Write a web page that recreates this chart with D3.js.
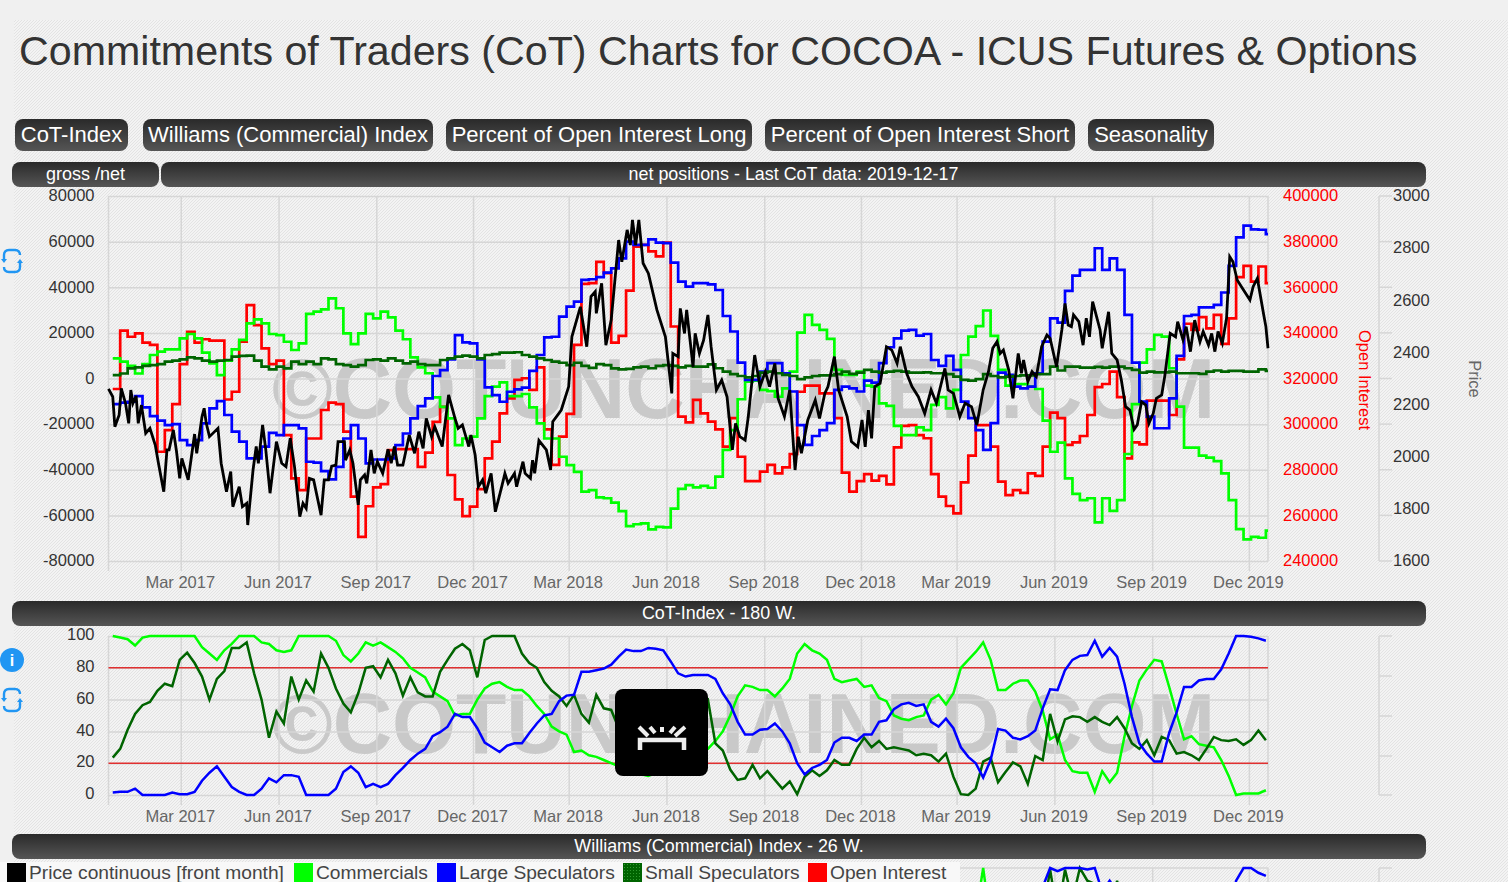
<!DOCTYPE html>
<html>
<head>
<meta charset="utf-8">
<title>CoT Charts COCOA</title>
<script src="https://cdnjs.cloudflare.com/ajax/libs/d3/7.8.5/d3.min.js"></script>
<style>
html, body { margin: 0; padding: 0; background: #f0f0f0; overflow: hidden; }
svg { display: block; font-family: "Liberation Sans", Arial, sans-serif; }
.grid line { stroke: #d6d6d6; stroke-width: 1.5; }
.grid path { display: none; }
.lbl path, .lbl line { display: none; }
.lbl text { font-size: 16.5px; fill: #333; }
.xlbl text { fill: #666; }
</style>
</head>
<body>
<svg id="page" width="1508" height="882"></svg>
<script>
// weekly CoT report, first date
var firstWeek = new Date(2016, 11, 27);
var axisStart = new Date(2016, 11, 23);
var axisEnd = new Date(2019, 11, 19);

var monthTicks = ["2017-03-01","2017-06-01","2017-09-01","2017-12-01","2018-03-01","2018-06-01","2018-09-01","2018-12-01","2019-03-01","2019-06-01","2019-09-01","2019-12-01"];
var netTicks = [-80000,-60000,-40000,-20000,0,20000,40000,60000,80000];
var oiTicks = [240000,260000,280000,300000,320000,340000,360000,380000,400000];
var priceTicks = [1600,1800,2000,2200,2400,2600,2800,3000];
var indexTicks = [0,20,40,60,80,100];

// net positions, thousands of contracts
var commercialsNet = [8.8,7.4,5.5,2.2,6.3,10.3,11.8,12.8,12.8,17.6,
  19.5,17.6,11.3,6.6,1.5,7.8,12.8,16.9,24.2,25.9,
  24.2,19.5,19,16.1,12.5,15.4,28.3,29.3,30.3,35.1,
  30.8,19.8,15.1,19.8,28.3,26.4,29.3,26.8,21,17.2,
  9.3,4.9,2.3,-8.3,-12.4,-17.5,-29.2,-26.3,-25.5,-17.5,
  -7.7,-3.6,-1.7,-7.7,-7.7,-6.8,-12.7,-19.7,-26.3,-26.3,
  -34.3,-38,-40.9,-49.6,-48.9,-52.1,-52.5,-54.4,-58.1,-64.7,
  -63.9,-63.5,-66.1,-65,-65.3,-57,-48.4,-46.7,-47.7,-47.1,
  -47.9,-43,-31.3,-22.6,-9.1,-1.4,-0.9,-5,-5.5,-8,
  -4.3,3,20.1,27.9,23.5,21.3,17.4,3.8,1.6,1.6,
  3,-3.1,-3.6,-10.9,-12,-20.8,-24.8,-24.8,-21.4,-22.6,
  -11.6,-8.2,-13.1,-5,10.3,18.4,23,29.8,18.7,3.8,
  -3.1,-2.5,-2.5,-3.6,-4.6,-18.5,-32.1,-28.1,-43.8,-50.6,
  -53.3,-52.5,-63.1,-52.5,-58,-53.3,-33.1,-11.2,7,12.8,
  19.1,18.4,4.5,-12.3,-30.3,-30.3,-33.8,-34.7,-36.2,-41.6,
  -53.3,-66,-70.5,-69.4,-69.8,-66.7];
var largeSpecNet = [-11.2,-10.6,-10.2,-7.7,-12.7,-16.5,-18.5,-20.4,-20,-27,
  -29.2,-27,-19.7,-13.1,-9.9,-16,-23.3,-27.7,-35,-35,
  -29.9,-23.8,-24.8,-20.4,-20.4,-21.9,-36.5,-36.9,-40.6,-44.2,
  -38.7,-26.3,-20.4,-26.3,-37.2,-35.5,-35.5,-35,-29.2,-24.1,
  -17.5,-12.1,-8.7,1.1,3.7,8.4,19,15.8,15.4,8.4,
  -3.9,-7.3,-10.2,-5.8,-4.8,-4,3.3,10.3,18,18.3,
  27.1,31.5,33.7,43.2,43.5,44.4,46.4,48.3,52.7,60,
  58.6,58.6,61,59.6,59.3,50.8,42.5,40.3,41.8,41.8,
  41.3,38.8,27.4,20.6,7,-0.6,-0.6,3,6.7,6.7,
  2.3,-5.7,-20.4,-29.1,-25.2,-22.6,-19.6,-5,-3.6,-4.3,
  -5.7,-0.9,-1.8,6.7,13.7,17.6,21,21.3,18.8,19.5,
  8.1,5.5,9.9,3.8,-10.1,-17.4,-22.6,-31.3,-19.6,2.6,
  1.6,-3.6,-4.3,-3.6,2.3,16.2,26.4,24.5,38.4,45.1,
  47.6,47.6,57.1,47.6,52.7,47.6,27.9,7,-10.1,-16.7,
  -21.8,-21.8,-8.7,9.9,27.4,27.9,31.2,31.2,32.3,37.7,
  49.4,61.9,67,65.4,65.2,63.3];
var smallSpecNet = [1.5,2.2,4.4,4.9,5.5,5.9,6.3,7.4,7.8,8.4,
  9.3,8.8,7.8,7.4,7.8,8.1,9.6,9.9,10,7.8,
  5.2,4,5.2,4.4,7.4,6.3,7.4,6.3,8.8,8.4,
  6.3,5.9,5.2,5.9,8.1,8.4,7.8,8.8,7.8,6.6,
  7.4,6.3,5.9,5.9,8.1,8.8,9.6,10,9.6,8.8,
  10.3,10.7,11.3,11.3,11.5,10.3,9.6,8.8,8.1,7.4,
  6.9,5.9,6.9,5.5,4.7,6.3,5.9,4.4,4,4.2,
  4.9,5.2,4.5,5.5,5.9,5.5,4.9,5.5,5.2,5.2,
  6.2,4.5,3,1.9,1.1,0.5,1.1,2.6,3,2.3,
  1.6,1.1,-0.3,0.5,1.1,1.4,1.4,1.9,3,2,
  2.6,3.8,3,2.6,3,3.3,3,2.6,2.6,2.7,
  2.3,2.3,1.9,0.8,-0.6,-0.9,-0.3,1.9,1.1,0.5,
  0.8,1.1,1.4,1.4,1.9,1.9,5.2,3.5,5.2,5.2,
  4.8,4.8,5.1,4.8,5.2,5.2,4.5,3.8,2.6,3,
  2.7,2.7,3,2.3,2.3,2.3,2,3,3.5,3,
  3.3,3.3,3,3,4,3.3];
// open interest, thousands of contracts
var openInterest = [315.4,341,338.3,339.8,335.7,334.7,287.9,297.4,308.8,326.3,
  340.5,335.7,337.2,336.6,336.6,310.8,314.2,336.1,352.2,343.4,
  333.2,326.3,327.8,295.2,276.2,271.1,293.7,293.7,306.2,309.4,
  308.8,296.7,268.2,250.6,264,272.3,273.7,288.6,289,289,
  289,281.3,287.5,301,307.6,277.7,267,259.7,263.8,271.5,
  285,292.3,304.7,311.3,319.4,320.1,315,324.9,297.7,282.1,
  294.5,304.5,334.7,361.5,361.8,371.1,366.2,335.7,338.7,358.5,
  377.8,378.6,375.7,373.5,379.6,342.8,303.3,300.8,310.6,304.7,
  301.1,297.7,290.1,302.6,285.7,275,275,279.2,282.1,278.4,
  281,286.9,314.2,316.9,316.9,313.5,313.5,302.6,278.7,270.4,
  275,278.1,275.2,277.3,273.6,289.8,299.2,299.6,295.2,293.8,
  278.1,268.2,264.1,260.9,274.5,286.2,299.6,299.6,290.1,274.8,
  268.9,271.1,269.9,278.4,277.3,290.1,305,302.6,290.9,292,
  294.8,304,316.2,317.6,323,311.8,285,292,291.1,310.3,
  310.3,310.3,304,328.4,344,341.3,346.9,342,347.9,335.2,
  346.4,364.4,369.4,362.5,369.1,361.8];

// front month price, turning points (days after axisStart)
var priceDays = [0,4,6,10,12,16,19,21,23,26,28,31,35,39,44,47,52,55,57,61,64,67,69,75,81,83,88,90,92,95,103,106,111,115,117,123,126,130,131,136,139,141,145,148,152,158,163,167,171,175,180,183,186,189,193,200,203,207,210,214,216,222,223,227,230,235,237,241,
  243,247,250,253,258,263,266,269,272,277,283,288,292,296,299,304,307,314,320,326,329,333,339,341,345,348,352,355,360,364,370,373,376,382,384,390,392,397,399,401,405,412,416,
  418,426,433,436,444,450,454,458,459,464,468,473,480,483,488,491,493,496,499,503,508,516,524,530,531,536,538,542,544,550,552,556,560,564,567,572,577,582,587,590,594,599,602,608,613,618,622,627,630,636,641,646,649,652,658,665,669,674,677,683,687,695,699,705,709,712,715,718,721,726,732,737,742,745,751,756,762,768,774,779,787,790,795,801,806,812,817,823,828,832,836,839,
  842,847,851,856,859,861,865,869,873,878,883,886,892,897,900,903,906,908,913,917,920,923,926,933,935,941,944,949,953,957,961,965,968,972,976,979,983,986,991,994,999,1004,1006,1011,1014,1018,1022,1027,1030,1035,1038,1041,1044,1048,1052,1055,1058,1062,1066,1074,1077,1081,1084,1087,1089,1091];
var priceValues = [2260,2230,2115,2160,2262,2205,2128,2256,2205,2233,2128,2198,2090,2109,2045,1975,1866,2026,2026,2103,2020,1917,1994,1911,2087,2013,2154,2186,2128,2077,2109,1975,1866,1943,1808,1885,1808,1821,1738,1949,2039,1975,2122,2026,1860,2058,1975,1962,2071,1962,1770,1821,1802,1917,1911,1776,1911,1911,1964,1968,2058,2058,1987,2026,1975,1815,1911,1930,
  1898,2026,1936,1981,1936,2028,1975,2039,1968,1968,2083,2013,2096,2032,2147,2077,2115,2039,2237,2147,2109,2122,2039,2083,2007,1885,1911,1860,1936,1789,1885,1936,1898,1936,1885,1981,1936,1917,1987,1936,2062,2026,1949,
  2134,2179,2269,2460,2575,2422,2614,2633,2550,2665,2428,2524,2831,2748,2870,2812,2908,2812,2908,2742,2703,2563,2460,2243,2396,2384,2569,2473,2563,2345,2473,2396,2448,2544,2422,2256,2294,2230,2026,2128,2077,2064,2154,2390,2269,2326,2269,2358,2224,2154,2256,1949,2077,2013,2141,2217,2147,2243,2269,2384,2256,2154,2058,2038,2141,2038,2179,2070,2269,2281,2422,2409,2358,2422,2320,2269,2230,2166,2256,2205,2339,2256,2243,2154,2205,2192,2122,2256,2326,2416,2441,2396,
  2409,2333,2224,2396,2320,2371,2288,2326,2307,2422,2467,2454,2345,2486,2588,2505,2499,2544,2518,2428,2531,2460,2595,2486,2416,2556,2396,2371,2294,2192,2179,2105,2122,2211,2198,2128,2166,2224,2237,2313,2473,2460,2518,2448,2499,2403,2524,2441,2480,2428,2473,2403,2480,2435,2531,2767,2748,2678,2652,2601,2652,2684,2614,2544,2499,2416];

// CoT-Index, 180 weeks
var cotCommercials = [100,99,98,94,99,100,100,100,100,100,
  100,100,93,89,85,91,95,100,100,100,
  96,95,91,90,91,100,100,100,100,100,
  97,88,84,89,96,94,96,93,90,86,
  80,77,74,65,62,59,50,51,51,60,
  67,70,71,68,66,66,62,56,51,43,
  40,38,27,28,25,24,22,20,18,15,
  14,13,12,14,13,15,18,22,25,28,
  29,34,40,50,62,69,68,66,66,62,
  67,73,89,95,91,89,85,73,71,72,
  73,68,69,61,59,50,48,47,49,50,
  60,63,57,64,80,85,90,96,85,66,
  66,70,72,72,65,53,35,38,22,15,
  14,14,2,15,8,14,37,56,72,79,
  85,84,68,51,35,37,32,31,30,22,
  12,0,1,1,1,3];
var cotLargeSpec = [1.5,2,2,4,0,0,0,0,1.5,0.5,
  0.5,2,9,14,18,11.5,5,2,0,0,
  4,10.5,8,12.5,12.5,11.5,0,0,0,0,
  4,14.5,18,14,5,7,5,7,12.5,17,
  22,26,29,37,39.5,43,51,49,49,42,
  33,30,27,31,32.5,32.5,39,45,50,51,
  59,62.5,63,77.5,77.5,78.5,79.5,82,87,91.5,
  90.5,90.5,92.5,92,91,84,76.5,74.5,75.5,75.5,
  75.5,73,64,57,46,38,38,41,41.5,45,
  40,32.5,20,13,17,19,22,33,36,36,
  34,38,38,46,47,54,57,58,56,57,
  46,43,48,42,30,24,20,11,22,41.5,
  40.5,36,35,37,40.5,54.5,66.5,66,78.5,85,
  87.5,88,97,87,92.5,87,70,49,32.5,26,
  21,21,39,52,68,68,72,73,73,79,
  89,100,100,99.5,98.5,97];
var cotSmallSpec = [23.5,29,41,51,56.5,58.5,65.5,70,68.5,85,
  89.5,83,74.5,60,73,78,92.5,92.5,96,76.5,
  60,36,52.5,45,74.5,60,72,65,89,80,
  67,57.5,52,64,80,81,74,85,76.5,62.5,
  74,64.5,62,62,77.5,85,92,95,91,74,
  97.5,100,100,100,100,89,83,80,71,65.5,
  62,56,63,51,45.5,63,54.5,53.5,42,45,
  38,50,58,52,60,48,44,52,56,58,
  60,32.5,28,16,9.5,10.5,19,10.5,15,9.5,
  4,8.5,0.5,11.5,15.5,12,15.5,22,19,19,
  29,36,30,34,29,30,29,28,25,26,
  25,21,26,11.5,0.5,0,4,21,23.5,8,
  14.5,20.5,18,7,24.5,22,51,33.5,47.5,49.5,
  49,46,49,46,44,49,42,32.5,29,34.5,
  25,36.5,34.5,26,27,25,22,29,36.5,34.5,
  34,35,31.5,34.5,40.5,34.5];

// Williams index, only the top of this panel is on the page
var wrCommWeeks = [115,116,117,118,119];
var wrCommValues = [50,70,100,65,40];
var wrLargeWeeks = [123,124,125,126,127,128,129,130,131,132,133,134,135,136,149,150,151,152,153,154,155];
var wrLargeValues = [50,70,88,100,98,100,100,100,99,100,85,92,85,70,50,70,92,100,100,97,95];
var wrSmallWeeks = [124,125,126,127,128,129,130,131,132,133,134,135,136];
var wrSmallValues = [50,70,99,70,99,80,100,92,90,85,70,92,70];

var legendNames = ["Price continuous [front month]","Commercials","Large Speculators","Small Speculators","Open Interest"];
var legendColors = ["#000","#00ff00","#0000ff","#006400","#ff0000"];
var buttonNames = ["CoT-Index","Williams (Commercial) Index","Percent of Open Interest Long","Percent of Open Interest Short","Seasonality"];

var weeks = commercialsNet.map(function(d, i) { return d3.timeDay.offset(firstWeek, i * 7); });
var priceDates = priceDays.map(function(d) { return d3.timeDay.offset(axisStart, d); });

var svg = d3.select("#page");
var defs = svg.append("defs");

// fine diagonal dither of the page background
var hatch = defs.append("pattern").attr("id", "hatch").attr("width", 3).attr("height", 3)
  .attr("patternUnits", "userSpaceOnUse");
hatch.append("rect").attr("width", 3).attr("height", 3).attr("fill", "#f3f3f3");
hatch.append("path").attr("d", "M0,3L3,0M-1,1L1,-1M2,4L4,2").attr("stroke", "#e3e3e3").attr("stroke-width", 1);

var barGrad = defs.append("linearGradient").attr("id", "barGrad").attr("x1", 0).attr("y1", 0).attr("x2", 0).attr("y2", 1);
barGrad.append("stop").attr("offset", "0%").attr("stop-color", "#2a2a2a");
barGrad.append("stop").attr("offset", "100%").attr("stop-color", "#555");

var dots = defs.append("pattern").attr("id", "dots").attr("width", 3).attr("height", 3).attr("patternUnits", "userSpaceOnUse");
dots.append("rect").attr("width", 3).attr("height", 3).attr("fill", "#006400");
dots.append("rect").attr("width", 1).attr("height", 1).attr("fill", "#2f9a2f");

svg.append("rect").attr("width", 1508).attr("height", 882).attr("fill", "url(#hatch)");
svg.append("rect").attr("width", 1508).attr("height", 20).attr("fill", "#f0f0f0");
svg.append("rect").attr("width", 14).attr("height", 882).attr("fill", "#f0f0f0");

svg.append("text").attr("x", 19).attr("y", 65).attr("fill", "#333").attr("font-size", 41.2)
  .text("Commitments of Traders (CoT) Charts for COCOA - ICUS Futures & Options");

function bar(x0, x1, y0, y1, label, size) {
  svg.append("rect").attr("x", x0).attr("y", y0).attr("width", x1 - x0).attr("height", y1 - y0)
    .attr("rx", 8).attr("fill", "url(#barGrad)");
  svg.append("text").attr("x", (x0 + x1) / 2).attr("y", (y0 + y1) / 2 + size * 0.35 - 1)
    .attr("text-anchor", "middle").attr("fill", "#fff").attr("font-size", size).text(label);
}

var buttonEdges = [[15,128],[143,433],[446,752],[765,1075],[1088,1214]];
buttonNames.forEach(function(n, i) { bar(buttonEdges[i][0], buttonEdges[i][1], 119, 151, n, 22); });
bar(12, 159, 162, 187, "gross /net", 18);
bar(161, 1426, 162, 187, "net positions - Last CoT data: 2019-12-17", 17.9);
bar(12, 1426, 601, 626, "CoT-Index - 180 W.", 17.9);
bar(12, 1426, 834, 859, "Williams (Commercial) Index - 26 W.", 17.9);

var x = d3.scaleTime().domain([axisStart, axisEnd]).range([108.5, 1268]);
var tickDates = monthTicks.map(function(d) { return d3.isoParse(d); });
var xFormat = d3.timeFormat("%b %Y");

function watermark(baseline) {
  svg.append("text").attr("x", 272).attr("y", baseline).attr("font-size", 86).attr("font-weight", "bold")
    .attr("fill", "#c9c9c9").attr("textLength", 943).attr("lengthAdjust", "spacingAndGlyphs")
    .text("©COTUNCHAINED.COM");
}

function verticals(top, bottom) {
  svg.append("g").attr("class", "grid").attr("transform", "translate(0," + bottom + ")")
    .call(d3.axisBottom(x).tickValues(tickDates).tickSize(-(bottom - top)).tickSizeOuter(0).tickFormat(""));
  svg.append("line").attr("x1", 108.5).attr("x2", 108.5).attr("y1", top).attr("y2", bottom + 10).attr("stroke", "#d6d6d6").attr("stroke-width", 1.5);
  svg.append("line").attr("x1", 1268).attr("x2", 1268).attr("y1", top).attr("y2", bottom).attr("stroke", "#d6d6d6").attr("stroke-width", 1.5);
  svg.append("g").attr("class", "grid").attr("transform", "translate(0," + bottom + ")")
    .call(d3.axisBottom(x).tickValues(tickDates).tickSize(10).tickSizeOuter(0).tickFormat(""));
}

function monthLabels(bottom, pad) {
  svg.append("g").attr("class", "lbl xlbl").attr("transform", "translate(-1," + bottom + ")")
    .call(d3.axisBottom(x).tickValues(tickDates).tickSize(0).tickPadding(pad).tickFormat(xFormat));
}

function sideAxis(axisTicks) {
  // grey scale strip right of the plot
  svg.append("line").attr("x1", 1379).attr("x2", 1379).attr("y1", axisTicks[0]).attr("y2", axisTicks[axisTicks.length - 1])
    .attr("stroke", "#d6d6d6").attr("stroke-width", 1.5);
  svg.selectAll(null).data(axisTicks).enter().append("line")
    .attr("x1", 1379).attr("x2", 1392).attr("y1", function(d) { return d; }).attr("y2", function(d) { return d; })
    .attr("stroke", "#d6d6d6").attr("stroke-width", 1.5);
}

// ---- net positions panel
var yNet = d3.scaleLinear().domain([-80000, 80000]).range([561, 196]);
var yOi = d3.scaleLinear().domain([240000, 400000]).range([561, 196]);
var yPrice = d3.scaleLinear().domain([1600, 3000]).range([561, 196]);
var plainNumber = function(d) { return String(d); };

watermark(418);
verticals(196, 561);
svg.append("g").attr("class", "grid").attr("transform", "translate(108.5,0)")
  .call(d3.axisLeft(yNet).tickValues(netTicks).tickSize(-1159.5).tickSizeOuter(0).tickFormat(""));
svg.append("g").attr("class", "lbl").attr("transform", "translate(108.5,-0.5)")
  .call(d3.axisLeft(yNet).tickValues(netTicks).tickSize(0).tickPadding(14).tickFormat(plainNumber));
var oiAxis = svg.append("g").attr("class", "lbl").attr("transform", "translate(1268,-0.5)")
  .call(d3.axisRight(yOi).tickValues(oiTicks).tickSize(0).tickPadding(15).tickFormat(plainNumber));
oiAxis.selectAll("text").style("fill", "#ff0000");
svg.append("g").attr("class", "lbl").attr("transform", "translate(1392,-0.5)")
  .call(d3.axisRight(yPrice).tickValues(priceTicks).tickSize(0).tickPadding(1).tickFormat(plainNumber));
sideAxis(netTicks.map(function(d) { return yNet(d); }));
monthLabels(561, 15);

svg.append("text").attr("transform", "translate(1359,380) rotate(90)").attr("text-anchor", "middle")
  .attr("fill", "#ff0000").attr("font-size", 16.5).text("Open Interest");
svg.append("text").attr("transform", "translate(1469,379) rotate(90)").attr("text-anchor", "middle")
  .attr("fill", "#666").attr("font-size", 16.5).text("Price");

function stepLine(values, yScale, unit, color, width) {
  // last value runs on to the right edge of the plot
  var pts = values.map(function(v, i) { return [weeks[i], v * unit]; });
  pts.push([axisEnd, values[values.length - 1] * unit]);
  var line = d3.line().x(function(d) { return x(d[0]); }).y(function(d) { return yScale(d[1]); }).curve(d3.curveStepAfter);
  svg.append("path").attr("d", line(pts)).attr("fill", "none").attr("stroke", color).attr("stroke-width", width);
}

stepLine(openInterest, yOi, 1000, "#ff0000", 2.7);
stepLine(commercialsNet, yNet, 1000, "#00ff00", 2.7);
stepLine(largeSpecNet, yNet, 1000, "#0000ff", 2.7);
stepLine(smallSpecNet, yNet, 1000, "#006400", 2.7);

var priceLine = d3.line().x(function(d, i) { return x(priceDates[i]); }).y(function(d) { return yPrice(d); });
svg.append("path").attr("d", priceLine(priceValues)).attr("fill", "none").attr("stroke", "#000").attr("stroke-width", 2.8);

// ---- CoT index panel
var yIdx = d3.scaleLinear().domain([0, 100]).range([795, 636]);
watermark(753);
verticals(636, 795);
svg.append("g").attr("class", "grid").attr("transform", "translate(108.5,0)")
  .call(d3.axisLeft(yIdx).tickValues(indexTicks).tickSize(-1159.5).tickSizeOuter(0).tickFormat(""));
svg.append("g").attr("class", "lbl").attr("transform", "translate(108.5,-1.5)")
  .call(d3.axisLeft(yIdx).tickValues(indexTicks).tickSize(0).tickPadding(14));
[80, 20].forEach(function(lim) {
  svg.append("line").attr("x1", 108.5).attr("x2", 1268).attr("y1", yIdx(lim)).attr("y2", yIdx(lim))
    .attr("stroke", "#e03030").attr("stroke-width", 1.5);
});
sideAxis([636, 676, 716, 756, 795]);
monthLabels(795, 15);

var idxLine = d3.line().x(function(d, i) { return x(weeks[i]); }).y(function(d) { return yIdx(d); });
svg.append("path").attr("d", idxLine(cotCommercials)).attr("fill", "none").attr("stroke", "#00ff00").attr("stroke-width", 2.5);
svg.append("path").attr("d", idxLine(cotSmallSpec)).attr("fill", "none").attr("stroke", "#006400").attr("stroke-width", 2.5);
svg.append("path").attr("d", idxLine(cotLargeSpec)).attr("fill", "none").attr("stroke", "#0000ff").attr("stroke-width", 2.5);

// black badge sitting on top of the index panel
svg.append("rect").attr("x", 615).attr("y", 689).attr("width", 93).attr("height", 87).attr("rx", 8).attr("fill", "#000");
svg.append("path").attr("d", "M640,750V740H684V750").attr("fill", "none").attr("stroke", "#eee").attr("stroke-width", 4.5);
[[639,727,648,736],[650,727,655,733],[662,727,662,732],[675,727,670,733],[685,727,675,736]].forEach(function(r) {
  svg.append("line").attr("x1", r[0]).attr("y1", r[1]).attr("x2", r[2]).attr("y2", r[3]).attr("stroke", "#eee").attr("stroke-width", 4);
});

// ---- Williams panel, cut by the page
var yWr = d3.scaleLinear().domain([0, 100]).range([1027, 868]);
svg.append("line").attr("x1", 108.5).attr("x2", 1268).attr("y1", yWr(100)).attr("y2", yWr(100)).attr("stroke", "#d6d6d6").attr("stroke-width", 1.5);
svg.append("g").attr("class", "grid").attr("transform", "translate(0,1027)")
  .call(d3.axisBottom(x).tickValues(tickDates).tickSize(-159).tickSizeOuter(0).tickFormat(""));
svg.append("line").attr("x1", 1268).attr("x2", 1268).attr("y1", 868).attr("y2", 882).attr("stroke", "#d6d6d6").attr("stroke-width", 1.5);
sideAxis([868, 1027]);

function wrPath(wk, vals, color) {
  var line = d3.line().x(function(d) { return x(weeks[d]); }).y(function(d, i) { return yWr(vals[i]); });
  svg.append("path").attr("d", line(wk)).attr("fill", "none").attr("stroke", color).attr("stroke-width", 2.5);
}
wrPath(wrCommWeeks, wrCommValues, "#00ff00");
wrPath(wrSmallWeeks, wrSmallValues, "#006400");
wrPath(wrLargeWeeks, wrLargeValues, "#0000ff");

// ---- legend strip
svg.append("rect").attr("x", 0).attr("y", 862).attr("width", 960).attr("height", 20).attr("fill", "#f8f8f8");
var legendX = [7, 294, 437, 623, 808];
legendNames.forEach(function(n, i) {
  svg.append("rect").attr("x", legendX[i]).attr("y", 863).attr("width", 19).attr("height", 19)
    .attr("fill", i == 3 ? "url(#dots)" : legendColors[i]);
  svg.append("text").attr("x", legendX[i] + 22).attr("y", 879).attr("fill", "#444").attr("font-size", 19.2).text(n);
});

// ---- side icons
function refreshIcon(cx, cy) {
  var g = svg.append("g").attr("transform", "translate(" + cx + "," + cy + ")")
    .attr("fill", "none").attr("stroke", "#2196f3").attr("stroke-width", 2.4);
  g.append("path").attr("d", "M-8,-2V-6Q-8,-11 -3,-11H3Q8,-11 8,-6");
  g.append("path").attr("d", "M8,2V6Q8,11 3,11H-3Q-8,11 -8,6");
  g.append("path").attr("d", "M-11,-2H-5L-8,2Z").attr("fill", "#2196f3").attr("stroke", "none");
  g.append("path").attr("d", "M11,2H5L8,-2Z").attr("fill", "#2196f3").attr("stroke", "none");
}
refreshIcon(12, 261);
refreshIcon(12, 700);
svg.append("circle").attr("cx", 12).attr("cy", 660).attr("r", 12).attr("fill", "#2196f3");
svg.append("text").attr("x", 12).attr("y", 666).attr("text-anchor", "middle").attr("fill", "#fff")
  .attr("font-size", 16).attr("font-weight", "bold").text("i");
</script>
</body>
</html>
